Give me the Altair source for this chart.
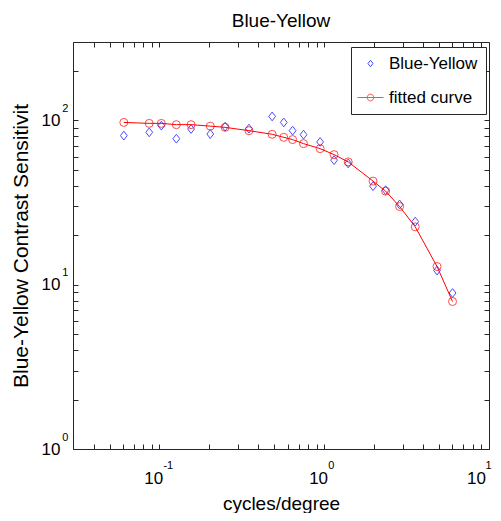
import altair as alt
import pandas as pd

# ---- data ----
freq = [0.061, 0.087, 0.103, 0.127, 0.156, 0.204, 0.251, 0.350, 0.484, 0.569, 0.644,
        0.750, 0.946, 1.149, 1.40, 1.98, 2.36, 2.87, 3.57, 4.84, 6.01]
blue_yellow = [80.8, 84.6, 92.9, 77.4, 88.6, 82.6, 91.6, 89.1, 105.7, 97.2, 86.6,
               81.9, 73.9, 57.3, 54.7, 39.8, 37.6, 30.8, 24.2, 12.2, 8.9]
fitted = [97.2, 95.9, 95.9, 94.2, 94.2, 92.3, 90.7, 86.6, 82.3, 78.9, 76.4,
          72.2, 67.3, 61.9, 55.9, 42.7, 37.1, 29.9, 22.5, 12.9, 7.9]
series_names = ["Blue-Yellow", "fitted curve"]

x_ticks = [0.03, 0.04, 0.05, 0.06, 0.07, 0.08, 0.09,
           0.1, 0.2, 0.3, 0.4, 0.5, 0.6, 0.7, 0.8, 0.9,
           1, 2, 3, 4, 5, 6, 7, 8, 9, 10]
y_ticks = [1, 2, 3, 4, 5, 6, 7, 8, 9,
           10, 20, 30, 40, 50, 60, 70, 80, 90, 100, 200]
x_decades = [0.1, 1, 10]
y_decades = [1, 10, 100]

df_blue = pd.DataFrame({"freq": freq, "cs": blue_yellow, "series": series_names[0]})
df_fit = pd.DataFrame({"freq": freq, "cs": fitted, "series": series_names[1]})

FONT = "Liberation Sans"
TICK = "#262626"

xscale = alt.Scale(type="log", domain=[0.03, 10], nice=False)
yscale = alt.Scale(type="log", domain=[1, 300], nice=False)

diamond_path = "M0,-1.1L0.85,0L0,1.1L-0.85,0Z"
fit_path = ("M-4.33,0L4.33,0M-1.1,0A1.1,1.1,0,1,1,1.1,0A1.1,1.1,0,1,1,-1.1,0")

legend = alt.Legend(title=None, orient="none", legendX=278, legendY=5,
                    strokeColor=TICK, fillColor="white", padding=8, rowPadding=16,
                    symbolSize=36, symbolOffset=3, labelOffset=10,
                    labelFontSize=17, labelFont=FONT, labelColor="black",
                    symbolStrokeWidth=1, cornerRadius=0, labelLimit=300)

ten_x = "datum.value == 0.1 || datum.value == 1 || datum.value == 10 ? '10' : ''"
ten_y = "datum.value == 1 || datum.value == 10 || datum.value == 100 ? '10' : ''"
exp_x = "datum.value == 0.1 ? '-1' : datum.value == 1 ? '0' : '1'"
exp_y = "datum.value == 1 ? '0' : datum.value == 10 ? '1' : '2'"

# layer 1: measured points, main axes with ticks, '10' labels and titles
blue = alt.Chart(df_blue).mark_point(filled=False, size=64, strokeWidth=1).encode(
    x=alt.X("freq:Q", scale=xscale, axis=alt.Axis(
        orient="bottom", values=x_ticks, labelExpr=ten_x, tickSize=5, offset=-5,
        domain=False, grid=False, tickColor=TICK, labelColor="black",
        labelFont=FONT, labelFontSize=17, labelPadding=21,
        labelOffset={"condition": {"test": "datum.value == 10", "value": -13}, "value": -6},
        labelAlign="center", labelBaseline="top", labelOverlap=False, labelFlush=False,
        title="cycles/degree", titleFont=FONT, titleFontSize=19,
        titleFontWeight="normal", titleColor="black", titlePadding=8)),
    y=alt.Y("cs:Q", scale=yscale, axis=alt.Axis(
        orient="left", values=y_ticks, labelExpr=ten_y, tickSize=5, offset=-5,
        domain=False, grid=False, tickColor=TICK, labelColor="black",
        labelFont=FONT, labelFontSize=17, labelPadding=13,
        labelAlign="right", labelBaseline="middle", labelOverlap=False, labelFlush=False,
        title="Blue-Yellow Contrast Sensitivit", titleFont=FONT, titleFontSize=21,
        titleFontWeight="normal", titleColor="black", titlePadding=10)),
    color=alt.Color("series:N", scale=alt.Scale(domain=series_names,
                                                 range=["#0000ff", "#ff0000"]),
                    legend=legend),
    shape=alt.Shape("series:N", scale=alt.Scale(domain=series_names,
                                                 range=[diamond_path, fit_path]),
                    legend=legend),
)

# layer 2: fitted line, mirrored top/right ticks
line = alt.Chart(df_fit).mark_line(color="#ff0000", strokeWidth=1).encode(
    x=alt.X("freq:Q", scale=xscale, axis=alt.Axis(
        orient="top", values=x_ticks, labels=False, tickSize=5, offset=-5,
        domain=False, grid=False, tickColor=TICK, title=None)),
    y=alt.Y("cs:Q", scale=yscale, axis=alt.Axis(
        orient="right", values=y_ticks, labels=False, tickSize=5, offset=-5,
        domain=False, grid=False, tickColor=TICK, title=None)),
)

# layer 3: fitted circles, exponent labels
circles = alt.Chart(df_fit).mark_point(shape="circle", filled=False, size=64,
                                        strokeWidth=1, color="#ff0000").encode(
    x=alt.X("freq:Q", scale=xscale, axis=alt.Axis(
        orient="bottom", values=x_decades, labelExpr=exp_x, ticks=False, tickSize=0,
        domain=False, grid=False, labelColor="black", labelFont=FONT,
        labelFontSize=11, labelPadding=10,
        labelOffset={"condition": {"test": "datum.value == 10", "value": -4}, "value": 3.7},
        labelAlign="left",
        labelBaseline="top", labelOverlap=False, labelFlush=False, title=None)),
    y=alt.Y("cs:Q", scale=yscale, axis=alt.Axis(
        orient="left", values=y_decades, labelExpr=exp_y, ticks=False, tickSize=0,
        domain=False, grid=False, labelColor="black", labelFont=FONT,
        labelFontSize=11, labelPadding=11.3, labelAlign="left",
        labelBaseline="alphabetic", labelOffset=-9, labelOverlap=False, labelFlush=False,
        title=None)),
)

chart = alt.layer(blue, line, circles).resolve_axis(
    x="independent", y="independent"
).properties(
    width=416, height=407,
    title=alt.TitleParams("Blue-Yellow", font=FONT, fontSize=19, fontWeight="normal",
                          color="black", anchor="middle", offset=11),
    padding={"left": 65, "top": 34, "right": 4, "bottom": 64},
    autosize="none",
).configure_view(stroke=TICK, strokeWidth=1)

chart.save("out.html", embed_options={"renderer": "svg", "actions": False})
